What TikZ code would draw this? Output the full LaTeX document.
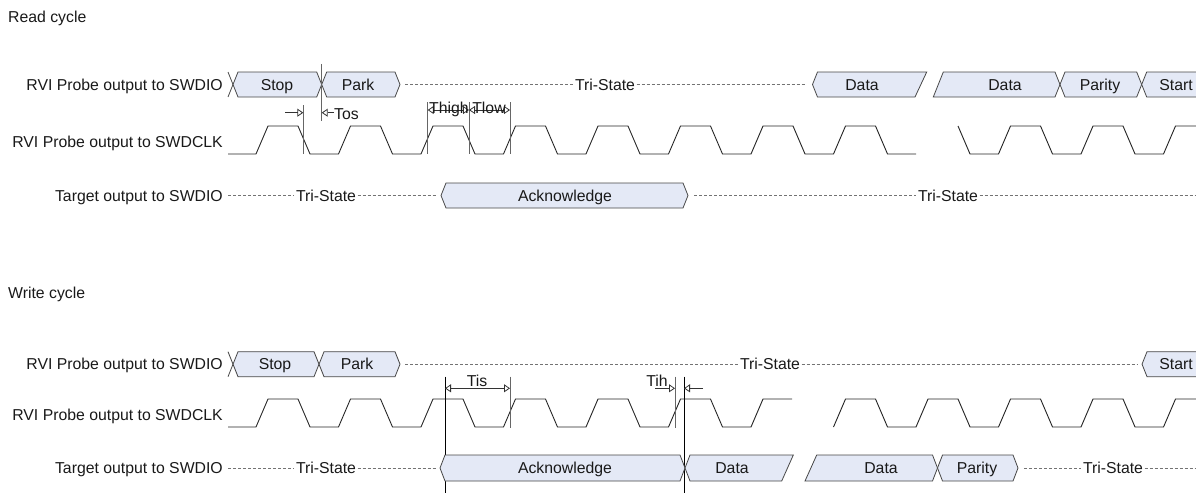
\documentclass[tikz,border=0pt]{standalone}
\usepackage{fontspec}
\setmainfont{Liberation Sans}
\usetikzlibrary{arrows.meta}
\definecolor{busfill}{RGB}{228,233,246}
\definecolor{busline}{RGB}{70,70,70}
\definecolor{dashcol}{RGB}{115,115,115}
\begin{document}
\begin{tikzpicture}[x=1pt,y=-1pt,
  every node/.style={font=\fontsize{15.8}{18}\selectfont, inner sep=0pt, text=black!90, text height=11.2pt, text depth=0pt},
  bus/.style={draw=busline, fill=busfill, line width=0.8pt, line join=miter},
  busedge/.style={draw=busline, line width=0.8pt},
  clk/.style={draw=black!85, line width=0.9pt, line join=miter},
  tri/.style={draw=dashcol, line width=0.8pt, dash pattern=on 3pt off 2pt},
  trilabel/.style={fill=white, inner xsep=1.5pt},
  vmark/.style={draw=black!60, line width=0.9pt},
  vmarkdark/.style={draw=black, line width=0.9pt},
  dimarrow/.style={draw=black!80, line width=0.8pt, -{Triangle[open,length=6pt,width=8pt]}},
  dimboth/.style={draw=black!80, line width=0.8pt, {Triangle[open,length=6pt,width=8pt]}-{Triangle[open,length=6pt,width=8pt]}},
  lbl/.style={anchor=east}]
\useasboundingbox (0,0) rectangle (1196,495);

% ================= READ CYCLE =================
\node[anchor=west] (readt) at (8,17) {Read cycle};
\node[lbl] (rl1) at (223,84.5) {RVI Probe output to SWDIO};
\node[lbl] (rl2) at (223,141.7) {RVI Probe output to SWDCLK};
\node[lbl] (rl3) at (223,195.5) {Target output to SWDIO};

% row 1
\draw[busedge] (228,72) -- (233,84.5) -- (228,97);
\draw[bus] (233,84.5) -- (238,72) -- (316.7,72) -- (321.7,84.5) -- (316.7,97) -- (238,97) -- cycle;
\draw[bus] (321.7,84.5) -- (326.7,72) -- (395,72) -- (400,84.5) -- (395,97) -- (326.7,97) -- cycle;
\node (rstop) at (277,84.5) {Stop};
\node (rpark) at (358,84.5) {Park};
\node[trilabel] (rts1) at (605,84.5) {Tri-State};
\draw[tri] (405,84.5) -- (rts1.west);
\draw[tri] (rts1.east) -- (805,84.5);
\draw[bus] (812.5,84.5) -- (817.5,72) -- (926.7,72) -- (915,97) -- (817.5,97) -- cycle;
\draw[bus] (933.3,97) -- (943.3,72) -- (1055,72) -- (1060,84.5) -- (1055,97) -- cycle;
\draw[bus] (1060,84.5) -- (1065,72) -- (1136.7,72) -- (1141.7,84.5) -- (1136.7,97) -- (1065,97) -- cycle;
\fill[busfill] (1141.7,84.5) -- (1146.7,72) -- (1197,72) -- (1197,97) -- (1146.7,97) -- cycle;
\draw[busedge] (1197,72) -- (1146.7,72) -- (1141.7,84.5) -- (1146.7,97) -- (1197,97);
\node (rdata1) at (862,84.5) {Data};
\node (rdata2) at (1005,84.5) {Data};
\node (rpar) at (1100,84.5) {Parity};
\node (rstart) at (1176,84.5) {Start};

% row 2 clock
\draw[clk] (228,154) -- (256,154)
  \foreach \k in {0,...,7} { -- ++(12,-28) -- ++(30,0) -- ++(12,28) -- ++(28.5,0) };
\draw[clk] (958,126) -- (970,154) -- (998.5,154)
  \foreach \k in {0,1} { -- ++(12,-28) -- ++(30,0) -- ++(12,28) -- ++(28.5,0) }
  -- ++(12,-28) -- (1197,126);

% read markers
\draw[vmark] (303.3,105) -- (303.3,154);
\draw[vmark] (321.7,64) -- (321.7,121);
\draw[dimarrow] (285,112.7) -- (303.3,112.7);
\node[anchor=west] (tos) at (334,113.5) {Tos};
\draw[dimarrow] (334,112.7) -- (321.7,112.7);
\draw[vmark] (427.7,102) -- (427.7,154);
\draw[vmark] (469,102) -- (469,154);
\draw[vmark] (510,102) -- (510,154);
\draw[dimboth] (427.7,110) -- (469,110);
\draw[dimboth] (469,110) -- (510,110);
\node[anchor=base] (thigh) at (449,113) {Thigh};
\node[anchor=base] (tlow) at (489,113) {Tlow};

% row 3
\node[trilabel] (rts2) at (326,195.5) {Tri-State};
\draw[tri] (228,195.5) -- (rts2.west);
\draw[tri] (rts2.east) -- (436,195.5);
\draw[bus] (441,195.5) -- (446,183) -- (683,183) -- (688,195.5) -- (683,208) -- (446,208) -- cycle;
\node (rack) at (565,195.5) {Acknowledge};
\node[trilabel] (rts3) at (948,195.5) {Tri-State};
\draw[tri] (694,195.5) -- (rts3.west);
\draw[tri] (rts3.east) -- (1196,195.5);

% ================= WRITE CYCLE =================
\node[anchor=west] (writet) at (8,293) {Write cycle};
\node[lbl] (wl1) at (223,364.2) {RVI Probe output to SWDIO};
\node[lbl] (wl2) at (223,415) {RVI Probe output to SWDCLK};
\node[lbl] (wl3) at (223,468) {Target output to SWDIO};

% row 1
\draw[busedge] (228,351.7) -- (233,364.2) -- (228,376.7);
\draw[bus] (233,364.2) -- (238,351.7) -- (314,351.7) -- (319,364.2) -- (314,376.7) -- (238,376.7) -- cycle;
\draw[bus] (319,364.2) -- (324,351.7) -- (395,351.7) -- (400,364.2) -- (395,376.7) -- (324,376.7) -- cycle;
\node (wstop) at (275,364.2) {Stop};
\node (wpark) at (357,364.2) {Park};
\node[trilabel] (wts1) at (770,364.2) {Tri-State};
\draw[tri] (405,364.2) -- (wts1.west);
\draw[tri] (wts1.east) -- (1137,364.2);
\fill[busfill] (1142,364.2) -- (1147,351.7) -- (1197,351.7) -- (1197,376.7) -- (1147,376.7) -- cycle;
\draw[busedge] (1197,351.7) -- (1147,351.7) -- (1142,364.2) -- (1147,376.7) -- (1197,376.7);
\node (wstart) at (1176,364.2) {Start};

% row 2 clock
\draw[clk] (228,427) -- (256,427)
  \foreach \k in {0,...,5} { -- ++(12,-28) -- ++(30,0) -- ++(12,28) -- ++(28.5,0) }
  -- ++(12,-28) -- ++(29,0);
\draw[clk] (833.5,427)
  \foreach \k in {0,...,3} { -- ++(12,-28) -- ++(30,0) -- ++(12,28) -- ++(28.5,0) }
  -- ++(12,-28) -- (1197,399);

% write markers
\draw[vmarkdark] (445,376.7) -- (445,493);
\draw[vmark] (510,376.7) -- (510,428);
\draw[vmark] (675,376.7) -- (675,428);
\draw[vmarkdark] (684,376.7) -- (684,493);
\draw[dimboth] (445,388.3) -- (510,388.3);
\node[anchor=base] (tis) at (477,386.5) {Tis};
\draw[dimarrow] (655,388.3) -- (675,388.3);
\draw[dimarrow] (703,388.3) -- (684,388.3);
\node[anchor=base] (tih) at (657,386.5) {Tih};

% row 3
\node[trilabel] (wts2) at (326,468) {Tri-State};
\draw[tri] (228,468) -- (wts2.west);
\draw[tri] (wts2.east) -- (436,468);
\draw[bus] (440,468) -- (445,455) -- (680,455) -- (685,468) -- (680,481) -- (445,481) -- cycle;
\draw[bus] (685,468) -- (690,455) -- (793.3,455) -- (781.7,481) -- (690,481) -- cycle;
\draw[bus] (805,481) -- (816.7,455) -- (932.5,455) -- (937.5,468) -- (932.5,481) -- cycle;
\draw[bus] (937.5,468) -- (942.5,455) -- (1013,455) -- (1018,468) -- (1013,481) -- (942.5,481) -- cycle;
\node (wack) at (565,468) {Acknowledge};
\node (wdata1) at (732,468) {Data};
\node (wdata2) at (881,468) {Data};
\node (wpar) at (977,468) {Parity};
\node[trilabel] (wts3) at (1113,468) {Tri-State};
\draw[tri] (1024,468) -- (wts3.west);
\draw[tri] (wts3.east) -- (1196,468);
\end{tikzpicture}
\end{document}
